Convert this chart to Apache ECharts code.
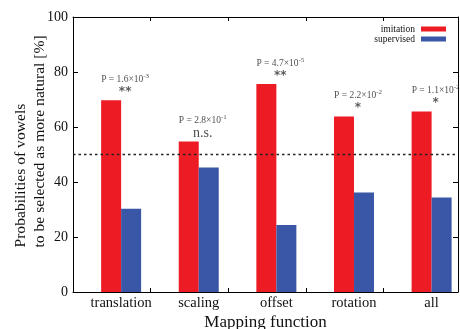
<!DOCTYPE html>
<html>
<head>
<meta charset="utf-8">
<script src="https://cdn.jsdelivr.net/npm/echarts@6/dist/echarts.min.js"></script>
<style>
  html, body { margin: 0; padding: 0; background: #fff; }
  #chart { width: 460px; height: 329px; }
</style>
</head>
<body>
<div id="chart"></div>
<script>
// mapping functions and the two preference shares (%)
var categories = ['translation', 'scaling', 'offset', 'rotation', 'all'];
var imitation = [69.7, 54.7, 75.6, 63.8, 65.6];
var supervised = [30.3, 45.3, 24.4, 36.2, 34.4];
// significance annotations
var pMant = ['1.6', '2.8', '4.7', '2.2', '1.1'];
var pExp = ['-3', '-1', '-5', '-2', '-2'];
var sig = ['**', 'n.s.', '**', '*', '*'];
var yTicks = [0, 20, 40, 60, 80, 100];
var chance = 50;

var FONT = 'Liberation Serif';
var RED = '#ed1c24';
var BLUE = '#3a56a6';

function idx(list) {
  return list.map(function (v, i) { return [i, v]; });
}

var chart = echarts.init(document.getElementById('chart'));

var tickPos = categories.slice(1).map(function (c, i) { return i + 0.38; });
var labelPos = categories.map(function (c, i) { return i; });

var frameLine = { show: true, onZero: false, lineStyle: { color: '#000', width: 1 } };

chart.setOption({
  animation: false,
  textStyle: { fontFamily: FONT },
  grid: { left: 73, right: 2, top: 17, bottom: 37, containLabel: false, outerBoundsMode: 'none' },
  legend: {
    orient: 'vertical',
    right: 9,
    top: 19,
    align: 'right',
    itemWidth: 25,
    itemHeight: 5,
    itemGap: 0,
    icon: 'rect',
    textStyle: { fontFamily: FONT, fontSize: 9.5, color: '#111', lineHeight: 9.5, padding: [0, 1, 0, 0] },
    data: ['imitation', 'supervised']
  },
  xAxis: [{
    type: 'value',
    min: -0.62,
    max: 4.34,
    name: 'Mapping function',
    nameLocation: 'middle',
    nameMoveOverlap: false,
    nameGap: 22,
    nameTextStyle: { fontFamily: FONT, fontSize: 17, color: '#111', verticalAlign: 'top' },
    axisLine: frameLine,
    axisTick: { inside: true, length: 4, customValues: tickPos, lineStyle: { color: '#000' } },
    axisLabel: {
      customValues: labelPos,
      margin: 4,
      fontFamily: FONT, fontSize: 14.5, color: '#111',
      formatter: function (v) { return categories[Math.round(v)]; }
    },
    splitLine: { show: false }
  }, {
    type: 'value',
    position: 'top',
    min: -0.62,
    max: 4.34,
    axisLine: frameLine,
    axisTick: { show: true, inside: true, length: 4, customValues: tickPos, lineStyle: { color: '#000' } },
    axisLabel: { show: false },
    splitLine: { show: false }
  }],
  yAxis: [{
    type: 'value',
    min: 0,
    max: 100,
    interval: 20,
    name: '{a|Probabilities of vowels}\n{a|to be selected as more natural [%]}',
    nameLocation: 'middle',
    nameMoveOverlap: false,
    nameRotate: 90,
    nameGap: 24,
    nameTextStyle: {
      fontFamily: FONT, fontSize: 15.6, color: '#111', padding: [0, 0, 0, 26],
      rich: { a: { fontFamily: FONT, fontSize: 15.6, color: '#111', lineHeight: 19, width: 212, align: 'left' } }
    },
    axisLine: frameLine,
    axisTick: { show: true, inside: true, length: 5, lineStyle: { color: '#000' } },
    axisLabel: {
      margin: 5, fontFamily: FONT, fontSize: 14, color: '#111',
      customValues: yTicks
    },
    splitLine: { show: false }
  }, {
    type: 'value',
    position: 'right',
    min: 0,
    max: 100,
    interval: 20,
    axisLine: frameLine,
    axisTick: { show: true, inside: true, length: 5, lineStyle: { color: '#000' } },
    axisLabel: { show: false },
    splitLine: { show: false }
  }],
  series: [{
    name: 'imitation',
    type: 'bar',
    data: idx(imitation),
    barWidth: 20,
    barGap: '0%',
    itemStyle: { color: RED },
    markLine: {
      silent: true,
      symbol: 'none',
      label: { show: false },
      lineStyle: { color: '#222', type: [2.5, 3], width: 1.4 },
      data: [{ yAxis: chance }]
    }
  }, {
    name: 'supervised',
    type: 'bar',
    data: idx(supervised),
    barWidth: 20,
    barGap: '0%',
    itemStyle: { color: BLUE }
  }, {
    name: 'notes',
    type: 'scatter',
    data: idx(imitation),
    symbolSize: 1,
    itemStyle: { color: 'transparent' },
    label: {
      show: true,
      position: 'top',
      distance: 2,
      offset: [4, 0],
      align: 'center',
      formatter: function (p) {
        var i = p.dataIndex;
        var s = sig[i] === 'n.s.' ? '{ns|n.s.}' : '{s|' + sig[i] + '}';
        return '{p|P = ' + pMant[i] + '×10}{e|' + pExp[i] + '}\n' + s;
      },
      rich: {
        p: { fontFamily: FONT, fontSize: 9.5, color: '#222', lineHeight: 13 },
        e: { fontFamily: FONT, fontSize: 7, color: '#222', lineHeight: 13, verticalAlign: 'top' },
        s: { fontFamily: 'DejaVu Sans', fontSize: 12, fontWeight: 'bold', color: '#333', lineHeight: 12 },
        ns: { fontFamily: FONT, fontSize: 14, color: '#222', lineHeight: 12 }
      }
    }
  }]
});
</script>
</body>
</html>
